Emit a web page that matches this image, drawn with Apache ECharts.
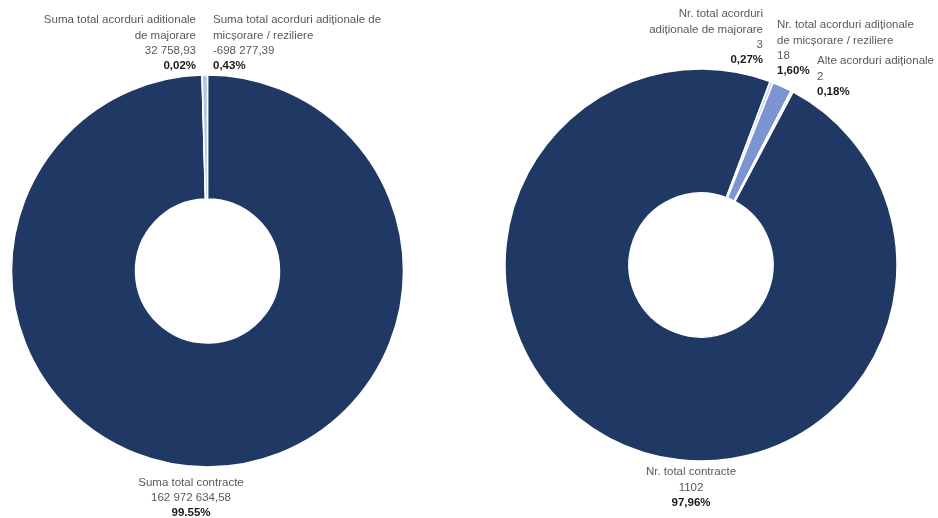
<!DOCTYPE html>
<html><head><meta charset="utf-8">
<script src="https://cdn.jsdelivr.net/npm/echarts@6/dist/echarts.min.js"></script>
<style>html,body{margin:0;padding:0;background:#fff}#c{width:938px;height:518px}</style>
</head><body><div id="c"></div>
<script>
// ---- Data (left chart: sums) ----
const sumNames = ['Suma total contracte', 'Suma total acorduri aditionale\nde majorare', 'Suma total acorduri adiționale de\nmicșorare / reziliere'];
const sumValues = [162972634.58, 32758.93, -698277.39];
const sumPercents = ['99.55%', '0,02%', '0,43%'];

// ---- Data (right chart: counts) ----
const nrNames = ['Nr. total contracte', 'Nr. total acorduri\nadiționale de majorare', 'Nr. total acorduri adiționale\nde micșorare / reziliere', 'Alte acorduri adiționale'];
const nrValues = [1102, 3, 18, 2];
const nrPercents = ['97,96%', '0,27%', '1,60%', '0,18%'];

// ---- Styles / layout ----
const sumColors = ['#203864', '#DAE3F3', '#B4C6E7'];
const nrColors = ['#203864', '#CBD6EE', '#7C94D1', '#E2E8F5'];
const sumLabelPos = [[191, 475, 'center'], [196, 12.5, 'right'], [213, 12.5, 'left']];
const nrLabelPos = [[691, 464.5, 'center'], [763, 6.5, 'right'], [777, 17.5, 'left'], [817, 53.5, 'left']];

const FONT = 'Liberation Sans, Arial, sans-serif';
const FS = 11.5, LH = 15.3;

function fmt(v, dec) {
  const neg = v < 0;
  const s = Math.abs(v).toFixed(dec);
  const parts = s.split('.');
  let intPart = parts[0];
  if (intPart.length > 4) intPart = intPart.replace(/\B(?=(\d{3})+(?!\d))/g, ' ');
  return (neg ? '-' : '') + intPart + (parts[1] ? ',' + parts[1] : '');
}

function richSet() {
  const r = {};
  const al = {L: 'left', R: 'right', C: 'center'};
  Object.keys(al).forEach(k => {
    r['n' + k] = {fontFamily: FONT, fontSize: FS, lineHeight: LH, color: '#595959', align: al[k]};
    r['p' + k] = {fontFamily: FONT, fontSize: FS, lineHeight: LH, color: '#1a1a1a', fontWeight: 'bold', align: al[k]};
  });
  return r;
}

function makeSeries(names, values, percents, colors, pos, dec, center, startAngle) {
  const tagOf = a => a === 'left' ? 'L' : (a === 'right' ? 'R' : 'C');
  return {
    type: 'pie',
    center: center,
    radius: [72, 196],
    startAngle: startAngle,
    clockwise: true,
    avoidLabelOverlap: false,
    silent: true,
    animation: false,
    itemStyle: {borderColor: '#ffffff', borderWidth: 1.5},
    labelLine: {show: false},
    label: {
      show: true,
      position: 'outside',
      formatter: function (p) {
        const t = tagOf(pos[p.dataIndex][2]);
        const lines = names[p.dataIndex].split('\n').map(s => '{n' + t + '|' + s + '}');
        lines.push('{n' + t + '|' + fmt(values[p.dataIndex], dec) + '}');
        lines.push('{p' + t + '|' + percents[p.dataIndex] + '}');
        return lines.join('\n');
      },
      rich: richSet()
    },
    labelLayout: function (params) {
      const q = pos[params.dataIndex];
      return {x: q[0], y: q[1], align: q[2], verticalAlign: 'top'};
    },
    data: names.map((n, i) => ({name: n, value: Math.abs(values[i]), itemStyle: {color: colors[i]}}))
  };
}

const chart = echarts.init(document.getElementById('c'), null, {renderer: 'canvas'});
chart.setOption({
  backgroundColor: '#ffffff',
  animation: false,
  series: [
    makeSeries(sumNames, sumValues, sumPercents, sumColors, sumLabelPos, 2, [207.5, 271], 90),
    makeSeries(nrNames, nrValues, nrPercents, nrColors, nrLabelPos, 0, [701, 265], 62)
  ]
});
</script>
</body></html>
